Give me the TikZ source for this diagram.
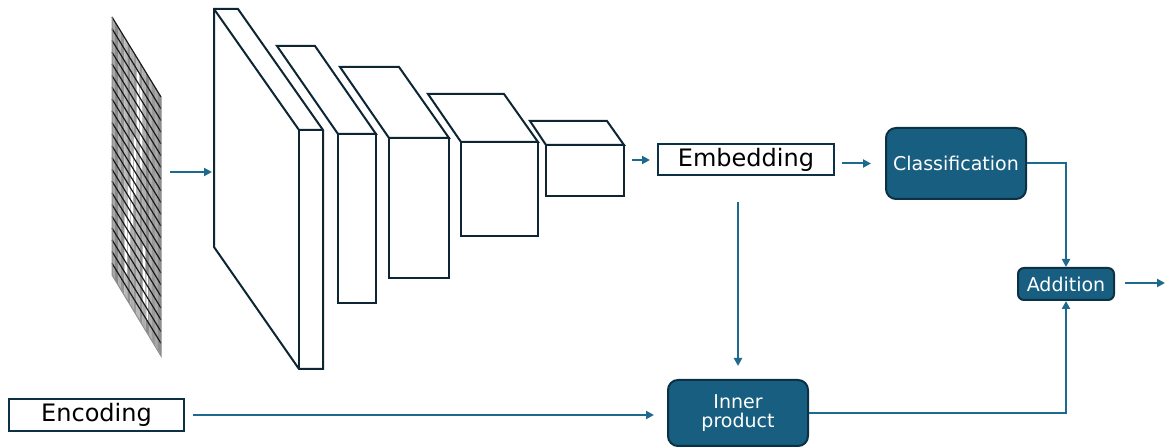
\documentclass[tikz,border=0pt]{standalone}
\usepackage{fontspec}
\usetikzlibrary{arrows.meta}
\newfontfamily\dv{DejaVu Sans}
\definecolor{boxblue}{HTML}{175E80}
\definecolor{boxedge}{HTML}{0C3144}
\definecolor{arrowblue}{HTML}{1D6A8E}
\definecolor{layeredge}{HTML}{0E2633}
\tikzset{
  layer/.style={draw=layeredge, line width=1pt, fill=white, line join=miter},
  plainbox/.style={draw=boxedge, line width=1pt, fill=white, inner sep=0pt,
    font=\dv\fontsize{12pt}{14pt}\selectfont, text=black},
  bluebox/.style={draw=boxedge, line width=1pt, fill=boxblue, rounded corners=5pt,
    inner sep=0pt, align=center, text=white,
    font=\dv\fontsize{9.5pt}{11pt}\selectfont},
  arr/.style={draw=arrowblue, line width=1pt, -{Triangle[length=4pt,width=4pt]}},
  link/.style={draw=arrowblue, line width=1pt}
}
\begin{document}
\begin{tikzpicture}[x=0.5pt, y=-0.5pt]
\useasboundingbox (0,0) rectangle (1167,448);

% ---- input image: sheared pixel grid ----
\foreach \i/\s in {0/34,1/46,2/30,3/42,4/28,5/44,6/32,7/40,8/27,9/42,10/32,11/46,12/30,13/40,14/34,15/44} {
  \fill[black!\s] ({112+\i*3.0625},{17+\i*5}) -- ++(3.0625,5) -- ++(0,258) -- ++(-3.0625,-5) -- cycle;
}
\foreach \i/\a/\b in {8/1/5, 9/2/8, 7/7/11, 6/9/14, 5/12/17, 4/15/19, 10/15/19, 11/17/20} {
  \foreach \j in {\a,...,\b} {
    \fill[white] ({112+(\i+0.2)*3.0625},{17+(\i+0.2)*5+\j*11.727}) -- ++(1.9,3.1) -- ++(0,11.727) -- ++(-1.9,-3.1) -- cycle;
  }
}
\foreach \j in {0,...,21} {
  \draw[black!90, line width=0.6pt] (112,{17+\j*11.727}) -- (161,{97+\j*11.727});
}
\draw[black!45, line width=0.5pt] (112,17) -- (112,275) -- (161,356) -- (161,97);

% ---- convolutional layers ----
\draw[layer] (214,9) -- (238,9) -- (323,130) -- (323,369) -- (299,369) -- (214,247) -- cycle;
\draw[layer, fill=none] (214,9) -- (299,130) -- (323,130);
\draw[layer, fill=none] (299,130) -- (299,369);

\draw[layer] (277,46) -- (315,46) -- (376,134) -- (338,134) -- cycle;
\draw[layer] (338,134) rectangle (376,303);

\draw[layer] (340,67) -- (399,67) -- (449,138) -- (389,138) -- cycle;
\draw[layer] (389,138) rectangle (449,278);

\draw[layer] (428,94) -- (504,94) -- (538,142) -- (461,142) -- cycle;
\draw[layer] (461,142) rectangle (538,236);

\draw[layer] (530,121) -- (607,121) -- (624,145) -- (546,145) -- cycle;
\draw[layer] (546,145) rectangle (624,196);

\coordinate (gridout) at (170,172);
\coordinate (layerin) at (212,172);
\coordinate (layerout) at (632,160);

% ---- blocks ----
\node[plainbox, minimum width=88pt, minimum height=15.5pt] (emb) at (746,159.5) {Embedding};
\node[plainbox, minimum width=87.5pt, minimum height=16pt] (enc) at (96.5,415) {Encoding};
\node[bluebox, minimum width=70pt, minimum height=35.5pt] (cls) at (956,163.5) {Classification};
\node[bluebox, minimum width=48pt, minimum height=16pt, rounded corners=3pt] (add) at (1066,284) {Addition};
\node[bluebox, minimum width=70pt, minimum height=33pt] (inner) at (738,413) {Inner\\[-1.2pt]product};
\coordinate (out) at (1165,283);

% ---- connectors ----
\draw[arr] (gridout) -- (layerin);
\draw[arr, shorten >=3.5pt] (layerout) -- (emb.west |- layerout);
\draw[arr, shorten <=3.5pt, shorten >=7pt] (emb.east |- cls.west) -- (cls.west);
\draw[arr, shorten <=13pt, shorten >=6.5pt] (inner.north |- emb.south) -- (inner.north);
\draw[arr, shorten <=4pt, shorten >=6.5pt] (enc.east) -- (enc.east -| inner.west);
\draw[arr] (cls.east) -| (add.north);
\draw[arr] (inner.east) -| (add.south);
\draw[arr, shorten <=5pt] (add.east |- out) -- (out);
\end{tikzpicture}
\end{document}
